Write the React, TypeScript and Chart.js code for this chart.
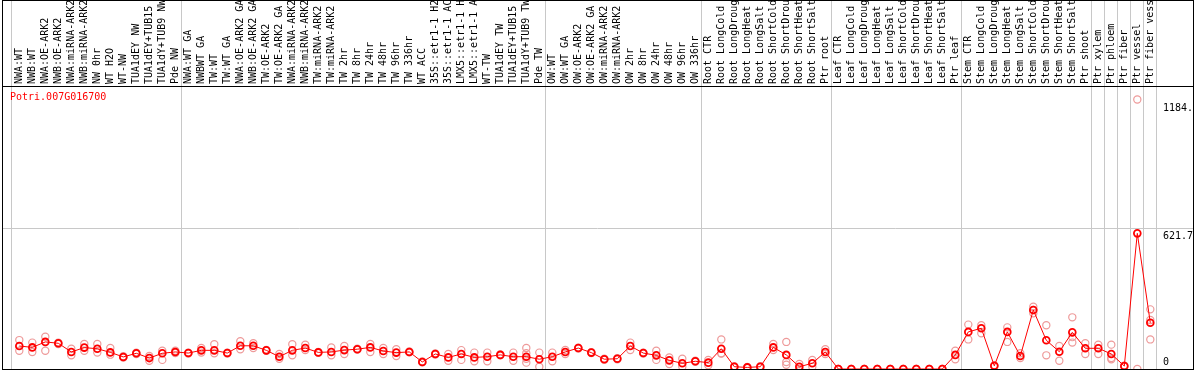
import React, { useEffect, useRef } from "react";
import { Chart, registerables } from "chart.js";

Chart.register(...registerables);

const geneId = "Potri.007G016700";

const categories = [
  "NWA:WT", "NWB:WT", "NWA:OE-ARK2", "NWB:OE-ARK2", "NWA:miRNA-ARK2", "NWB:miRNA-ARK2",
  "NW 0hr", "WT H2O", "WT-NW", "TUA1dEY NW", "TUA1dEY+TUB15", "TUA1dY+TUB9 NW", "Pde NW",
  "NWA:WT GA", "NWBWT GA", "TW:WT", "TW:WT GA", "NWA:OE-ARK2 GA", "NWB:OE-ARK2 GA",
  "TW:OE-ARK2", "TW:OE-ARK2 GA", "NWA:miRNA-ARK2", "NWB:miRNA-ARK2", "TW:miRNA-ARK2",
  "TW:miRNA-ARK2", "TW 2hr", "TW 8hr", "TW 24hr", "TW 48hr", "TW 96hr", "TW 336hr",
  "WT ACC", "35S::etr1-1 H2O", "35S::etr1-1 ACC", "LMX5::etr1-1 H2O", "LMX5::etr1-1 ACC",
  "WT-TW", "TUA1dEY TW", "TUA1dEY+TUB15", "TUA1dY+TUB9 TW", "Pde TW",
  "OW:WT", "OW:WT GA", "OW:OE-ARK2", "OW:OE-ARK2 GA", "OW:miRNA-ARK2", "OW:miRNA-ARK2",
  "OW 2hr", "OW 8hr", "OW 24hr", "OW 48hr", "OW 96hr", "OW 336hr",
  "Root CTR", "Root LongCold", "Root LongDrought", "Root LongHeat", "Root LongSalt",
  "Root ShortCold", "Root ShortDrought", "Root ShortHeat", "Root ShortSalt", "Ptr root",
  "Leaf CTR", "Leaf LongCold", "Leaf LongDrought", "Leaf LongHeat", "Leaf LongSalt",
  "Leaf ShortCold", "Leaf ShortDrought", "Leaf ShortHeat", "Leaf ShortSalt", "Ptr leaf",
  "Stem CTR", "Stem LongCold", "Stem LongDrought", "Stem LongHeat", "Stem LongSalt",
  "Stem ShortCold", "Stem ShortDrought", "Stem ShortHeat", "Stem ShortSalt", "Ptr shoot",
  "Ptr xylem", "Ptr phloem", "Ptr fiber", "Ptr vessel", "Ptr fiber vessel",
];

const meanValues = [
  101, 95, 119, 113, 75, 94, 89, 73, 53, 69, 48, 69, 75,
  70, 82, 82, 70, 102, 102, 82, 54, 82, 92, 73, 75, 83, 87, 95, 79, 72, 75, 31, 66, 51, 66, 51, 54, 62, 54, 54, 43,
  54, 75, 92, 72, 43, 45, 101, 70, 60, 38, 25, 34,
  28, 89, 10, 7, 10, 95, 62, 10, 25, 75,
  0, 0, 0, 0, 0, 0, 0, 0, 0, 62,
  163, 179, 14, 163, 57, 259, 126, 76, 161, 91,
  91, 66, 13, 596, 203,
];

const replicateValues: number[][] = [
  [127, 80], [116, 75], [142, 80], [116, 110], [89, 60], [110, 80], [110, 72], [92, 63],
  [56, 50], [72, 66], [57, 36], [80, 40], [80, 70],
  [72, 68], [92, 72], [109, 69], [72, 68], [122, 87], [113, 92], [84, 80], [66, 45],
  [109, 60], [107, 83], [75, 71], [95, 60], [101, 66], [89, 85], [110, 75], [92, 66],
  [87, 57], [77, 73], [33, 29], [68, 64], [66, 36], [83, 40], [72, 34], [72, 34],
  [64, 60], [72, 36], [92, 69, 45, 28], [72, 10],
  [72, 34], [84, 66], [94, 90], [74, 70], [45, 41], [47, 43], [116, 83], [72, 68],
  [80, 40], [51, 22], [45, 10], [36, 32],
  [40, 16], [130, 69, 68], [12, 8], [9, 5], [12, 8], [110, 83], [119, 31, 19], [22, 0],
  [40, 10], [87, 66],
  [0, 0], [0, 0], [0, 0], [0, 0], [0, 0], [0, 0], [0, 0], [0, 0], [0, 0], [80, 43],
  [195, 130], [192, 157], [16, 12], [183, 119], [69, 48], [274, 259, 245], [192, 60],
  [101, 36], [227, 140, 116], [113, 66],
  [107, 66], [107, 48, 43], [15, 11], [1184, 0], [262, 215, 130],
];

// index of the last category in each group
const groupEnds = [12, 40, 52, 62, 72, 82, 83, 84, 85, 86, 87];

const yTickValues = [0, 621.7, 1184];
const yTickLabels = ["0", "621.7", "1184."];
const gridValues = [621.7];
const yMax = 1243.4;

const FONT = '10px "DejaVu Sans Mono", "Liberation Mono", monospace';

const decorPlugin = {
  id: "efpDecor",
  beforeDatasetsDraw(chart: any) {
    const { ctx, scales } = chart;
    const xs = scales.x;
    const ys = scales.y;
    ctx.save();
    ctx.strokeStyle = "#c8c8c8";
    ctx.lineWidth = 1;
    const xLines = [xs.getPixelForValue(0) - 8.3].concat(
      groupEnds.map((g) => xs.getPixelForValue(g) + 5.3)
    );
    xLines.forEach((x) => {
      const px = Math.round(x) + 0.5;
      ctx.beginPath();
      ctx.moveTo(px, 0);
      ctx.lineTo(px, 370);
      ctx.stroke();
    });
    gridValues.forEach((v) => {
      const py = Math.round(ys.getPixelForValue(v)) + 0.5;
      ctx.beginPath();
      ctx.moveTo(2, py);
      ctx.lineTo(1193, py);
      ctx.stroke();
    });
    ctx.restore();
  },
  afterDatasetsDraw(chart: any) {
    const { ctx, scales, chartArea } = chart;
    const xs = scales.x;
    const ys = scales.y;
    ctx.save();
    ctx.font = FONT;
    ctx.textAlign = "left";
    ctx.textBaseline = "alphabetic";
    ctx.fillStyle = "#000000";
    categories.forEach((c, i) => {
      const x = xs.getPixelForValue(i);
      ctx.save();
      ctx.translate(x + 2.7, 84);
      ctx.rotate(-Math.PI / 2);
      ctx.fillText(c, 0, 0);
      ctx.restore();
    });
    yTickValues.forEach((v, i) => {
      const y = Math.min(ys.getPixelForValue(v) + 11, chartArea.bottom - 4);
      ctx.fillText(yTickLabels[i], 1163, y);
    });
    ctx.fillStyle = "#ff0000";
    ctx.fillText(geneId, 10, 100);
    ctx.strokeStyle = "#000000";
    ctx.lineWidth = 1;
    ctx.strokeRect(2.5, 0.5, 1191, 369);
    ctx.beginPath();
    ctx.moveTo(2, 86.5);
    ctx.lineTo(1194, 86.5);
    ctx.stroke();
    ctx.restore();
  },
};

export default function App() {
  const canvasRef = useRef<HTMLCanvasElement | null>(null);

  useEffect(() => {
    document.body.style.margin = "0";
    const canvas = canvasRef.current;
    if (!canvas) return;

    const meanPoints = meanValues.map((v, i) => ({ x: i, y: v }));
    const repPoints: { x: number; y: number }[] = [];
    replicateValues.forEach((reps, i) => reps.forEach((v) => repPoints.push({ x: i, y: v })));

    const chart = new Chart(canvas, {
      type: "line",
      data: {
        datasets: [
          {
            label: "mean",
            data: meanPoints,
            borderColor: "#ff0000",
            borderWidth: 1,
            pointRadius: 3.4,
            pointBorderWidth: 1.8,
            pointBorderColor: "#ff0000",
            pointBackgroundColor: "rgba(255,255,255,0)",
            pointStyle: "circle",
            clip: false,
            order: 0,
          } as any,
          {
            label: "replicates",
            data: repPoints,
            showLine: false,
            borderColor: "#f0a0a0",
            pointRadius: 3.6,
            pointBorderWidth: 1.2,
            pointBorderColor: "#ee9a9a",
            pointBackgroundColor: "rgba(255,255,255,0)",
            clip: false,
            order: 1,
          } as any,
        ],
      },
      options: {
        responsive: false,
        maintainAspectRatio: false,
        animation: false,
        devicePixelRatio: 1,
        layout: { autoPadding: false, padding: { top: 86, left: 2, right: 1, bottom: 1 } },
        plugins: { legend: { display: false }, tooltip: { enabled: false }, title: { display: false } },
        scales: {
          x: { type: "linear", display: false, min: -1.331, max: 90.284 },
          y: { type: "linear", display: false, min: 0, max: yMax },
        },
      },
      plugins: [decorPlugin],
    });
    return () => chart.destroy();
  }, []);

  return (
    <div style={{ width: 1194, height: 370, background: "#ffffff" }}>
      <canvas ref={canvasRef} width={1194} height={370} style={{ display: "block" }} />
    </div>
  );
}
